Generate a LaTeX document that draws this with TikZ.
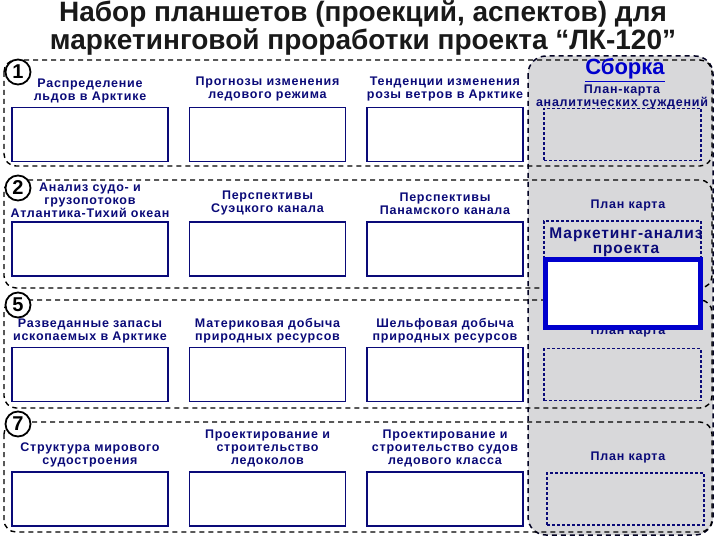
\documentclass[tikz,border=0pt]{standalone}
\usepackage{fontspec}
\setmainfont{Liberation Sans}
\newfontfamily\widesans[LetterSpace=6]{Liberation Sans}
\usetikzlibrary{positioning}
\definecolor{navy}{RGB}{10,10,120}
\definecolor{panelgray}{RGB}{216,216,218}
\definecolor{brightblue}{RGB}{0,0,205}

\begin{document}
\begin{tikzpicture}[x=1pt, y=-1pt, node distance={177.5pt},
	main/.style = {draw=navy, line width=1.6pt, fill=white, minimum width=156pt, minimum height=54pt, inner sep=0pt},
	slot/.style = {draw=navy, line width=1.3pt, dash pattern=on 3pt off 2pt, fill=panelgray, minimum width=157pt, minimum height=52pt, inner sep=0pt},
	lbl/.style = {text=navy, font=\widesans\bfseries\fontsize{12.5}{13}\selectfont, align=center, inner sep=0pt},
	band/.style = {draw=black, line width=1.4pt, dash pattern=on 5pt off 4pt, rounded corners=12pt},
	num/.style = {draw=black, circle, line width=1.8pt, fill=white, minimum size=25pt, inner sep=0pt, font=\bfseries\fontsize{20}{20}\selectfont}]
	\useasboundingbox (0,0) rectangle (720,540);

	%% Panel
	\draw[draw=black!70!navy, line width=1.5pt, dash pattern=on 5pt off 4pt, rounded corners=18pt, fill=panelgray] (528,56) rectangle (713,535);

	%% Bands
	\draw[band] (4,60) rectangle (712,166);
	\draw[band] (4,180) rectangle (712,288);
	\draw[band] (4,300) rectangle (712,408);
	\draw[band] (4,422) rectangle (712,532);

	%% Title
	\node[font=\bfseries\fontsize{28}{22}\selectfont, text=black!90, align=center] (title) at (363,28) {Набор планшетов (проекций, аспектов) для\\маркетинговой проработки проекта “ЛК-120”};
	\node[text=brightblue, font=\bfseries\fontsize{22}{22}\selectfont] (sb) at (625,70) {\underline{Сборка}};

	%% Nodes
	\node[main] (a1) at (90,134.5) {};
	\node[main][right of=a1] (b1) {};
	\node[main][right of=b1] (c1) {};
	\node[slot][right of=c1] (g1) {};

	\node[main] (a2) at (90,249) {};
	\node[main][right of=a2] (b2) {};
	\node[main][right of=b2] (c2) {};
	\node[slot, minimum height=56pt][right of=c2] (g2) {};

	\node[main] (a3) at (90,374.5) {};
	\node[main][right of=a3] (b3) {};
	\node[main][right of=b3] (c3) {};
	\node[slot][right of=c3] (g3) {};

	\node[main] (a4) at (90,499) {};
	\node[main][right of=a4] (b4) {};
	\node[main][right of=b4] (c4) {};
	\node[slot][right of=c4, xshift=3pt] (g4) {};

	%% Labels
	\node[lbl, above=3pt of a1] (la1) {Распределение\\льдов в Арктике};
	\node[lbl, above=5pt of b1] (lb1) {Прогнозы изменения\\ледового режима};
	\node[lbl, above=5pt of c1] (lc1) {Тенденции изменения\\розы ветров в Арктике};
	\node[lbl] (lg1) at (622,97) {План-карта\\аналитических суждений};

	\node[lbl, above=3pt of a2] (la2) {Анализ судо- и\\грузопотоков\\Атлантика-Тихий океан};
	\node[lbl, above=6pt of b2] (lb2) {Перспективы\\Суэцкого канала};
	\node[lbl, above=6pt of c2] (lc2) {Перспективы\\Панамского канала};
	\node[lbl] (lg2) at (628,205) {План карта};
	\node[text=navy, font=\widesans\bfseries\fontsize{15.5}{15}\selectfont, align=center, inner sep=0pt] (mk) at (626,242) {Маркетинг-анализ\\проекта};

	\node[lbl, above=3pt of a3] (la3) {Разведанные запасы\\ископаемых в Арктике};
	\node[lbl, above=3pt of b3] (lb3) {Материковая добыча\\природных ресурсов};
	\node[lbl, above=3pt of c3] (lc3) {Шельфовая добыча\\природных ресурсов};
	\node[lbl] (lg3) at (628,331) {План карта};

	\node[lbl, above=4pt of a4] (la4) {Структура мирового\\судостроения};
	\node[lbl, above=4pt of b4] (lb4) {Проектирование и\\строительство\\ледоколов};
	\node[lbl, above=4pt of c4] (lc4) {Проектирование и\\строительство судов\\ледового класса};
	\node[lbl] (lg4) at (628,457) {План карта};

	%% Result box
	\node[draw=brightblue, line width=5pt, fill=white, minimum width=155pt, minimum height=68pt, inner sep=0pt] (res) at (623,293.5) {};

	%% Numbers
	\node[num] (n1) at (18,72) {1};
	\node[num] (n2) at (18,188) {2};
	\node[num] (n5) at (18,305) {5};
	\node[num] (n7) at (18,424) {7};
\end{tikzpicture}
\end{document}
